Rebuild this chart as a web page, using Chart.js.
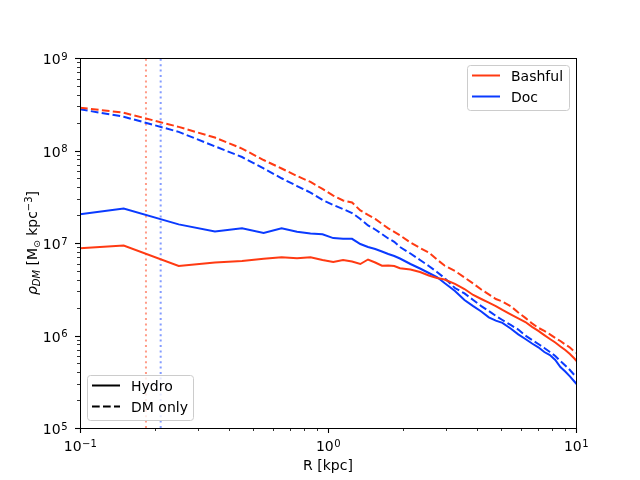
<!DOCTYPE html>
<html>
<head>
<meta charset="utf-8">
<script src="https://cdn.jsdelivr.net/npm/chart.js@4.4.1/dist/chart.umd.min.js"></script>
<style>
  html, body { margin: 0; padding: 0; background: #fff; }
</style>
</head>
<body>
<canvas id="profile-chart" width="640" height="480"></canvas>
<script>
'use strict'

// radii in kpc (bin centres)
const radius = [0.1, 0.15, 0.25, 0.35, 0.45, 0.55, 0.65, 0.75, 0.85, 0.95,
    1.05, 1.15, 1.25, 1.35, 1.45, 1.55, 1.65, 1.75, 1.85, 1.95,
    2.15, 2.35, 2.55, 2.75, 2.95, 3.25, 3.55, 3.85, 4.15, 4.45,
    4.75, 5.05, 5.45, 5.85, 6.25, 6.65, 7.05, 7.45, 7.85, 8.25,
    8.65, 9.05, 9.45, 9.85, 10.05];

const bashfulHydro = [8.76e6, 9.40e6, 5.64e6, 6.15e6, 6.39e6, 6.77e6, 7.00e6, 6.83e6, 7.00e6, 6.55e6,
    6.23e6, 6.55e6, 6.31e6, 5.93e6, 6.63e6, 6.15e6, 5.68e6, 5.71e6, 5.64e6, 5.33e6,
    5.17e6, 4.86e6, 4.45e6, 4.18e6, 4.03e6, 3.61e6, 3.18e6, 2.74e6, 2.48e6, 2.27e6,
    2.08e6, 1.89e6, 1.69e6, 1.53e6, 1.40e6, 1.24e6, 1.12e6, 1.01e6, 9.17e5, 8.40e5,
    7.61e5, 6.97e5, 6.31e5, 5.64e5, 5.30e5];

const bashfulDM = [2.90e8, 2.56e8, 1.80e8, 1.38e8, 1.05e8, 7.89e7, 6.39e7, 5.30e7, 4.57e7, 3.84e7,
    3.26e7, 2.88e7, 2.74e7, 2.25e7, 2.01e7, 1.82e7, 1.61e7, 1.44e7, 1.32e7, 1.21e7,
    1.01e7, 8.83e6, 7.89e6, 6.63e6, 5.71e6, 4.98e6, 4.24e6, 3.65e6, 3.14e6, 2.78e6,
    2.48e6, 2.33e6, 2.08e6, 1.77e6, 1.55e6, 1.35e6, 1.21e6, 1.12e6, 1.03e6, 9.40e5,
    8.72e5, 7.99e5, 7.42e5, 6.71e5, 6.47e5];

const docHydro = [2.04e7, 2.36e7, 1.59e7, 1.33e7, 1.44e7, 1.28e7, 1.44e7, 1.32e7, 1.27e7, 1.24e7,
    1.13e7, 1.11e7, 1.11e7, 9.75e6, 9.05e6, 8.61e6, 8.09e6, 7.61e6, 7.23e6, 6.80e6,
    5.93e6, 5.30e6, 4.74e6, 4.29e6, 3.69e6, 3.03e6, 2.42e6, 2.08e6, 1.82e6, 1.57e6,
    1.45e6, 1.37e6, 1.19e6, 1.03e6, 9.17e5, 8.19e5, 7.46e5, 6.63e5, 6.15e5, 5.43e5,
    4.56e5, 4.08e5, 3.61e5, 3.18e5, 2.99e5];

const docDM = [2.79e8, 2.32e8, 1.59e8, 1.11e8, 8.50e7, 6.39e7, 5.01e7, 4.13e7, 3.51e7, 2.92e7,
    2.58e7, 2.33e7, 2.11e7, 1.82e7, 1.55e7, 1.40e7, 1.25e7, 1.12e7, 1.03e7, 9.05e6,
    7.70e6, 6.55e6, 5.64e6, 4.86e6, 4.18e6, 3.26e6, 2.85e6, 2.42e6, 2.08e6, 1.84e6,
    1.63e6, 1.47e6, 1.30e6, 1.16e6, 1.00e6, 8.94e5, 8.09e5, 7.33e5, 6.63e5, 6.00e5,
    5.30e5, 4.74e5, 4.24e5, 3.74e5, 3.56e5];

// resolution limits (kpc)
const softBashful = 0.1845;
const softDoc = 0.2115;

const haloNames = ['Bashful', 'Doc'];
const runNames = ['Hydro', 'DM only'];

const xTicks = [0.1, 1, 10];
const xTickExp = ['\u22121', '0', '1'];
const yTicks = [1e5, 1e6, 1e7, 1e8, 1e9];
const yTickExp = ['5', '6', '7', '8', '9'];

const RED = 'rgb(255, 58, 18)';
const BLUE = 'rgb(10, 58, 255)';
const RED_HALF = 'rgba(255, 58, 18, 0.5)';
const BLUE_HALF = 'rgba(10, 58, 255, 0.5)';
const FONT = '"DejaVu Sans", sans-serif';

function toPoints(xs, ys) {
    return xs.map((x, i) => ({ x: x, y: ys[i] }));
}

function vline(x) {
    return [{ x: x, y: 1e5 }, { x: x, y: 1e9 }];
}

function power10(ctx, exp, x, y, align) {
    ctx.font = '14px ' + FONT;
    const w1 = ctx.measureText('10').width;
    ctx.font = '10px ' + FONT;
    const w2 = ctx.measureText(exp).width;
    const w = w1 + w2;
    let x0 = x - w / 2;
    if (align === 'right') x0 = x - w;
    ctx.textAlign = 'left';
    ctx.textBaseline = 'alphabetic';
    ctx.font = '14px ' + FONT;
    ctx.fillText('10', x0, y);
    ctx.font = '10px ' + FONT;
    ctx.fillText(exp, x0 + w1 + 0.5, y - 4.5);
}

function roundRect(ctx, x, y, w, h, r) {
    ctx.beginPath();
    ctx.moveTo(x + r, y);
    ctx.lineTo(x + w - r, y);
    ctx.arcTo(x + w, y, x + w, y + r, r);
    ctx.lineTo(x + w, y + h - r);
    ctx.arcTo(x + w, y + h, x + w - r, y + h, r);
    ctx.lineTo(x + r, y + h);
    ctx.arcTo(x, y + h, x, y + h - r, r);
    ctx.lineTo(x, y + r);
    ctx.arcTo(x, y, x + r, y, r);
    ctx.closePath();
}

function legendBox(ctx, x, y, w, h, items) {
    ctx.save();
    roundRect(ctx, x + 0.5, y + 0.5, w, h, 3);
    ctx.fillStyle = 'rgba(255,255,255,0.8)';
    ctx.fill();
    ctx.strokeStyle = '#cccccc';
    ctx.lineWidth = 1;
    ctx.stroke();
    items.forEach((it, i) => {
        const ly = y + 10.5 + i * 21;
        ctx.beginPath();
        ctx.strokeStyle = it.color;
        ctx.lineWidth = 2;
        ctx.setLineDash(it.dash);
        ctx.moveTo(x + 5, ly);
        ctx.lineTo(x + 33, ly);
        ctx.stroke();
        ctx.setLineDash([]);
        ctx.fillStyle = '#000';
        ctx.font = '14px ' + FONT;
        ctx.textAlign = 'left';
        ctx.textBaseline = 'alphabetic';
        ctx.fillText(it.label, x + 44, ly + 5);
    });
    ctx.restore();
}

const axesPlugin = {
    id: 'axesPlugin',
    afterDraw(chart) {
        const ctx = chart.ctx;
        const area = chart.chartArea;
        const xs = chart.scales.x;
        const ys = chart.scales.y;
        ctx.save();

        // frame
        ctx.strokeStyle = '#000';
        ctx.lineWidth = 1;
        ctx.strokeRect(Math.round(area.left) + 0.5, Math.round(area.top) + 0.5,
            Math.round(area.right - area.left), Math.round(area.bottom - area.top));

        // minor and major ticks
        const drawX = (v, len) => {
            const px = Math.round(xs.getPixelForValue(v)) + 0.5;
            ctx.beginPath();
            ctx.moveTo(px, area.bottom);
            ctx.lineTo(px, area.bottom + len);
            ctx.stroke();
        };
        const drawY = (v, len) => {
            const py = Math.round(ys.getPixelForValue(v)) + 0.5;
            ctx.beginPath();
            ctx.moveTo(area.left, py);
            ctx.lineTo(area.left - len, py);
            ctx.stroke();
        };
        ctx.lineWidth = 0.8;
        for (let d = 0; d < xTicks.length - 1; d++) {
            for (let m = 2; m < 10; m++) drawX(xTicks[d] * m, 3);
        }
        for (let d = 0; d < yTicks.length - 1; d++) {
            for (let m = 2; m < 10; m++) drawY(yTicks[d] * m, 3);
        }
        ctx.lineWidth = 1.1;
        xTicks.forEach(v => drawX(v, 5));
        yTicks.forEach(v => drawY(v, 5));

        // tick labels
        ctx.fillStyle = '#000';
        xTicks.forEach((v, i) => power10(ctx, xTickExp[i], xs.getPixelForValue(v), 451, 'center'));
        yTicks.forEach((v, i) => power10(ctx, yTickExp[i], 67, ys.getPixelForValue(v) + 6, 'right'));

        // axis titles
        ctx.font = '14px ' + FONT;
        ctx.textAlign = 'center';
        ctx.textBaseline = 'alphabetic';
        ctx.fillText('R [kpc]', (area.left + area.right) / 2, 470);

        const parts = [
            { t: '\u03c1', f: 'italic 14px ', dy: 0 },
            { t: 'DM', f: 'italic 10px ', dy: 3 },
            { t: ' [M', f: '14px ', dy: 0 },
            { t: '\u2299', f: '9px ', dy: 3 },
            { t: ' kpc', f: '14px ', dy: 0 },
            { t: '\u22123', f: '10px ', dy: -5 },
            { t: ']', f: '14px ', dy: 0 }
        ];
        let total = 0;
        parts.forEach(p => { ctx.font = p.f + FONT; p.w = ctx.measureText(p.t).width; total += p.w; });
        ctx.translate(37, (area.top + area.bottom) / 2);
        ctx.rotate(-Math.PI / 2);
        ctx.textAlign = 'left';
        let cx = -total / 2;
        parts.forEach(p => {
            ctx.font = p.f + FONT;
            ctx.fillText(p.t, cx, p.dy);
            cx += p.w;
        });
        ctx.restore();

        // legends
        legendBox(ctx, 467, 65, 102, 45, [
            { label: haloNames[0], color: RED, dash: [] },
            { label: haloNames[1], color: BLUE, dash: [] }
        ]);
        legendBox(ctx, 87, 375, 106, 45, [
            { label: runNames[0], color: '#000', dash: [] },
            { label: runNames[1], color: '#000', dash: [7.7, 3.3] }
        ]);
    }
};

const ctx = document.getElementById('profile-chart').getContext('2d');
const profileChart = new Chart(ctx, {
    type: 'line',
    data: {
        datasets: [
            {
                label: 'Bashful ' + runNames[0],
                data: toPoints(radius, bashfulHydro),
                borderColor: RED,
                borderWidth: 2,
                fill: false
            },
            {
                label: 'Bashful ' + runNames[1],
                data: toPoints(radius, bashfulDM),
                borderColor: RED,
                borderWidth: 2,
                borderDash: [7.7, 3.3],
                fill: false
            },
            {
                label: 'Doc ' + runNames[0],
                data: toPoints(radius, docHydro),
                borderColor: BLUE,
                borderWidth: 2,
                fill: false
            },
            {
                label: 'Doc ' + runNames[1],
                data: toPoints(radius, docDM),
                borderColor: BLUE,
                borderWidth: 2,
                borderDash: [7.7, 3.3],
                fill: false
            },
            {
                label: 'Bashful softening',
                data: vline(softBashful),
                borderColor: RED_HALF,
                borderWidth: 2,
                borderDash: [2, 3.4],
                fill: false
            },
            {
                label: 'Doc softening',
                data: vline(softDoc),
                borderColor: BLUE_HALF,
                borderWidth: 2,
                borderDash: [2, 3.4],
                fill: false
            }
        ]
    },
    options: {
        responsive: false,
        animation: false,
        devicePixelRatio: 1,
        layout: {
            padding: { left: 0, right: 64, top: 58, bottom: 0 }
        },
        elements: {
            point: { radius: 0 },
            line: { tension: 0 }
        },
        plugins: {
            legend: { display: false },
            tooltip: { enabled: false }
        },
        scales: {
            x: {
                type: 'logarithmic',
                min: 0.1,
                max: 10,
                ticks: { display: false },
                grid: { display: false },
                border: { display: false },
                afterFit(scale) { scale.height = 52; }
            },
            y: {
                type: 'logarithmic',
                min: 1e5,
                max: 1e9,
                ticks: { display: false },
                grid: { display: false },
                border: { display: false },
                afterFit(scale) { scale.width = 80; }
            }
        }
    },
    plugins: [axesPlugin]
});
</script>
</body>
</html>
